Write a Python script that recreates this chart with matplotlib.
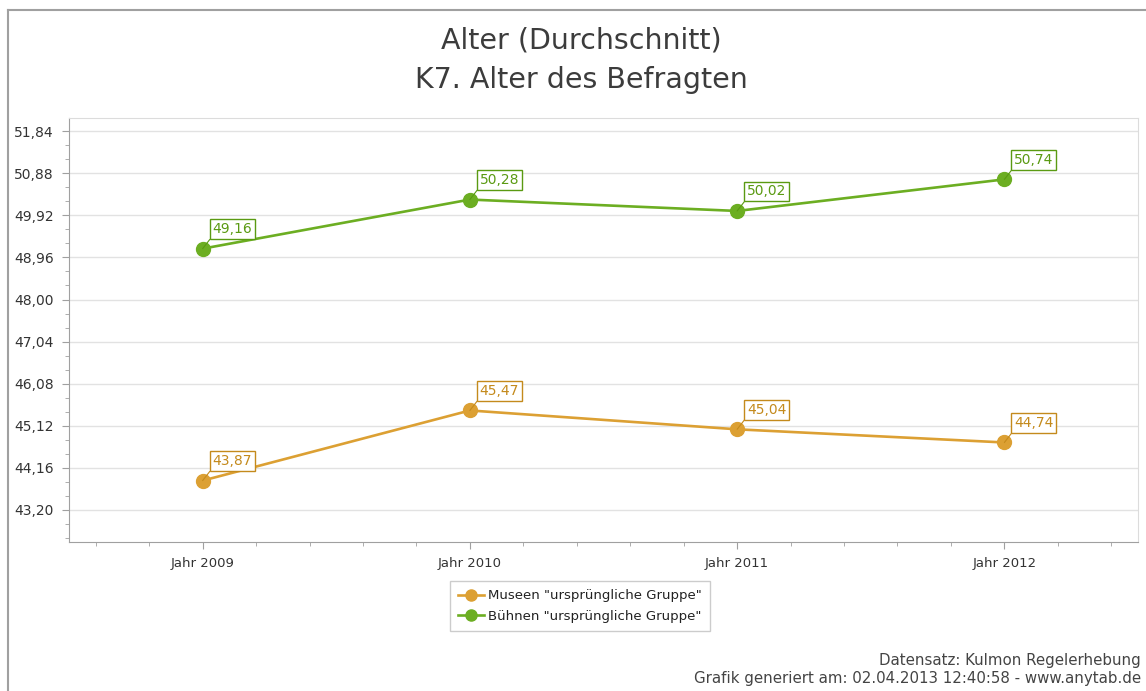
import numpy as np
import matplotlib.pyplot as plt
from matplotlib.lines import Line2D
from matplotlib.ticker import MultipleLocator, AutoMinorLocator, FuncFormatter

# Daten
jahre = ['Jahr 2009', 'Jahr 2010', 'Jahr 2011', 'Jahr 2012']
museen = [43.87, 45.47, 45.04, 44.74]
buehnen = [49.16, 50.28, 50.02, 50.74]
serien = ['Museen "ursprüngliche Gruppe"', 'Bühnen "ursprüngliche Gruppe"']
y_ticks = [43.20, 44.16, 45.12, 46.08, 47.04, 48.00, 48.96, 49.92, 50.88, 51.84]

orange = '#dca033'
orange_txt = '#c48a1c'
gruen = '#6cae22'
gruen_txt = '#5a9a12'

fig = plt.figure(figsize=(11.46, 6.91), dpi=100)
fig.patch.set_facecolor('white')

# Rahmen
fig.add_artist(Line2D([8/1146, 8/1146], [0, 1-10/691], color='#a0a0a0', lw=1.5))
fig.add_artist(Line2D([8/1146, 1], [1-10/691, 1-10/691], color='#a0a0a0', lw=1.5))

ax = fig.add_axes([69/1146, 1-542/691, (1138-69)/1146, (542-118)/691])
x = np.arange(len(jahre))

for werte, farbe, txt, name in [(museen, orange, orange_txt, serien[0]),
                                (buehnen, gruen, gruen_txt, serien[1])]:
    ax.plot(x, werte, color=farbe, lw=1.9, marker='o', markersize=10,
            markerfacecolor=farbe, markeredgecolor=farbe, label=name, zorder=3)
    for xi, v in zip(x, werte):
        ax.annotate(f'{v:.2f}'.replace('.', ','), xy=(xi, v), xytext=(7, 9),
                    textcoords='offset points', ha='left', va='bottom',
                    fontsize=10, color=txt,
                    bbox=dict(boxstyle='square,pad=0.2', fc='white', ec=txt, lw=1),
                    arrowprops=dict(arrowstyle='-', color=txt, lw=0.8,
                                    shrinkA=0, shrinkB=0, relpos=(0, 0)),
                    zorder=4)

ax.set_xlim(-0.5, 3.5)
ax.set_ylim(42.47, 52.14)
ax.set_xticks(x)
ax.set_xticklabels(jahre)
ax.xaxis.set_minor_locator(AutoMinorLocator(5))
ax.set_yticks(y_ticks)
ax.yaxis.set_minor_locator(MultipleLocator(0.32))
ax.yaxis.set_major_formatter(FuncFormatter(lambda v, p: f'{v:.2f}'.replace('.', ',')))

ax.grid(axis='y', color='#e2e2e2', lw=1)
ax.set_axisbelow(True)
ax.tick_params(axis='both', which='major', length=5, color='#a0a0a0',
               labelcolor='#333333')
ax.tick_params(axis='x', labelsize=9.5, pad=6)
ax.tick_params(axis='y', labelsize=10, pad=6)
ax.tick_params(axis='both', which='minor', length=3, color='#a0a0a0')
for s in ['left', 'bottom']:
    ax.spines[s].set_color('#a0a0a0')
for s in ['top', 'right']:
    ax.spines[s].set_color('#dcdcdc')

fig.text(0.507, 1-40/691, 'Alter (Durchschnitt)', ha='center', va='center',
         fontsize=20.5, color='#3c3c3c')
fig.text(0.507, 1-80/691, 'K7. Alter des Befragten', ha='center', va='center',
         fontsize=20.5, color='#3c3c3c')

leg = fig.legend(loc='center', bbox_to_anchor=(580/1146, 1-606/691), fontsize=9.5,
                 frameon=True, fancybox=False, edgecolor='#c0c0c0',
                 handlelength=2.0, handletextpad=0.3, labelspacing=0.55,
                 borderpad=0.6, markerscale=0.8)
leg.get_frame().set_linewidth(1)
for t in leg.get_texts():
    t.set_color('#222222')

fig.text(1141/1146, 1-660/691, 'Datensatz: Kulmon Regelerhebung', ha='right',
         va='center', fontsize=10.8, color='#444444')
fig.text(1141/1146, 1-678/691, 'Grafik generiert am: 02.04.2013 12:40:58 - www.anytab.de',
         ha='right', va='center', fontsize=10.8, color='#444444')

fig.savefig('out.png', dpi=100)
